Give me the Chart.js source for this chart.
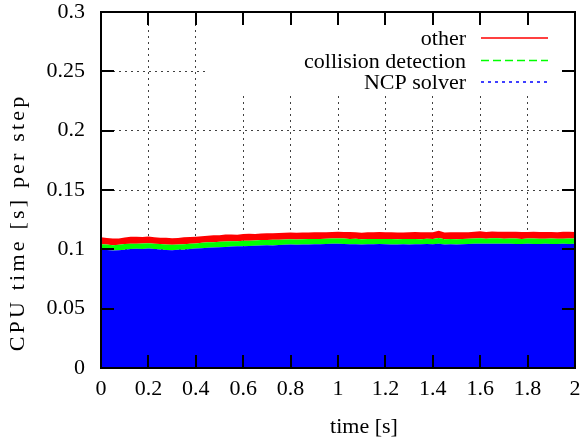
<!DOCTYPE html>
<html>
<head>
<meta charset="utf-8">
<script src="https://cdn.jsdelivr.net/npm/chart.js@4.4.1/dist/chart.umd.min.js"></script>
<style>
  html, body { margin: 0; padding: 0; background: #fff; }
  #wrap { width: 588px; height: 440px; }
</style>
</head>
<body>
<div id="wrap"><canvas id="cpuChart" width="588" height="440"></canvas></div>
<script>
// CPU time per step, stacked (bottom to top): NCP solver, collision detection, other

// 1. Data
const time = [
    0, 0.025, 0.05, 0.075, 0.1, 0.125, 0.15, 0.175, 0.2, 0.225,
    0.25, 0.275, 0.3, 0.325, 0.35, 0.375, 0.4, 0.425, 0.45, 0.475,
    0.5, 0.525, 0.55, 0.575, 0.6, 0.625, 0.65, 0.675, 0.7, 0.725,
    0.75, 0.775, 0.8, 0.825, 0.85, 0.875, 0.9, 0.925, 0.95, 0.975,
    1, 1.025, 1.05, 1.075, 1.1, 1.125, 1.15, 1.175, 1.2, 1.225,
    1.25, 1.275, 1.3, 1.325, 1.35, 1.375, 1.4, 1.425, 1.45, 1.475,
    1.5, 1.525, 1.55, 1.575, 1.6, 1.625, 1.65, 1.675, 1.7, 1.725,
    1.75, 1.775, 1.8, 1.825, 1.85, 1.875, 1.9, 1.925, 1.95, 1.975,
    2
];

const ncpSolver = [
    0.1000, 0.0995, 0.0990, 0.0993, 0.0997, 0.1002, 0.1005, 0.1003, 0.1006, 0.1002,
    0.0998, 0.0994, 0.0993, 0.0996, 0.0997, 0.1002, 0.1007, 0.1010, 0.1013, 0.1016,
    0.1018, 0.1020, 0.1023, 0.1025, 0.1027, 0.1028, 0.1030, 0.1032, 0.1034, 0.1033,
    0.1036, 0.1038, 0.1040, 0.1039, 0.1041, 0.1040, 0.1042, 0.1043, 0.1044, 0.1046,
    0.1047, 0.1045, 0.1043, 0.1042, 0.1041, 0.1043, 0.1042, 0.1044, 0.1043, 0.1041,
    0.1040, 0.1042, 0.1041, 0.1043, 0.1042, 0.1044, 0.1043, 0.1046, 0.1041, 0.1042,
    0.1041, 0.1043, 0.1044, 0.1046, 0.1047, 0.1046, 0.1048, 0.1047, 0.1046, 0.1047,
    0.1045, 0.1044, 0.1046, 0.1045, 0.1044, 0.1046, 0.1045, 0.1044, 0.1046, 0.1045,
    0.1046
];

const collisionDetection = [
    0.0043, 0.0046, 0.0044, 0.0045, 0.0047, 0.0044, 0.0043, 0.0046, 0.0045, 0.0044,
    0.0046, 0.0047, 0.0045, 0.0044, 0.0046, 0.0045, 0.0043, 0.0045, 0.0046, 0.0044,
    0.0045, 0.0047, 0.0045, 0.0044, 0.0046, 0.0045, 0.0044, 0.0046, 0.0045, 0.0047,
    0.0044, 0.0045, 0.0046, 0.0044, 0.0045, 0.0047, 0.0045, 0.0044, 0.0046, 0.0045,
    0.0044, 0.0046, 0.0045, 0.0047, 0.0044, 0.0045, 0.0046, 0.0044, 0.0045, 0.0046,
    0.0044, 0.0045, 0.0047, 0.0045, 0.0044, 0.0046, 0.0045, 0.0050, 0.0044, 0.0046,
    0.0045, 0.0044, 0.0046, 0.0045, 0.0047, 0.0044, 0.0045, 0.0046, 0.0044, 0.0045,
    0.0046, 0.0044, 0.0045, 0.0047, 0.0045, 0.0044, 0.0046, 0.0045, 0.0044, 0.0046,
    0.0045
];

const other = [
    0.0058, 0.0055, 0.0057, 0.0054, 0.0056, 0.0059, 0.0057, 0.0055, 0.0058, 0.0056,
    0.0054, 0.0057, 0.0056, 0.0055, 0.0058, 0.0056, 0.0057, 0.0055, 0.0056, 0.0058,
    0.0055, 0.0057, 0.0056, 0.0054, 0.0057, 0.0058, 0.0055, 0.0056, 0.0057, 0.0055,
    0.0058, 0.0056, 0.0055, 0.0057, 0.0056, 0.0054, 0.0057, 0.0058, 0.0055, 0.0056,
    0.0057, 0.0055, 0.0058, 0.0056, 0.0054, 0.0057, 0.0056, 0.0058, 0.0055, 0.0056,
    0.0057, 0.0055, 0.0056, 0.0058, 0.0057, 0.0054, 0.0056, 0.0060, 0.0057, 0.0055,
    0.0058, 0.0056, 0.0055, 0.0057, 0.0058, 0.0056, 0.0057, 0.0055, 0.0058, 0.0056,
    0.0057, 0.0058, 0.0055, 0.0056, 0.0058, 0.0057, 0.0055, 0.0056, 0.0058, 0.0057,
    0.0056
];

const xTickValues = [0, 0.2, 0.4, 0.6, 0.8, 1, 1.2, 1.4, 1.6, 1.8, 2];
const yTickValues = [0, 0.05, 0.1, 0.15, 0.2, 0.25, 0.3];

const seriesNames = ['NCP solver', 'collision detection', 'other'];
const seriesColors = ['#0000ff', '#00ff00', '#ff0000'];

// 2. Helpers
const FONT = '"Liberation Serif", "Times New Roman", serif';
const toPoints = (vals) => vals.map((v, i) => ({ x: time[i], y: v }));
const fmtTick = (v) => String(+Number(v).toFixed(3));

// key box (gnuplot style, opaque, top right)
const KEY_LEFT = 208;
const KEY_BOTTOM = 92;

// 3. Plugin: opaque key, frame with mirrored ticks, axis titles
const gnuplotFrame = {
    id: 'gnuplotFrame',
    beforeDatasetsDraw(chart) {
        const { ctx, chartArea: a } = chart;
        ctx.save();
        ctx.fillStyle = '#fff';
        ctx.fillRect(KEY_LEFT, a.top + 1, a.right - KEY_LEFT - 1, KEY_BOTTOM - a.top);
        ctx.restore();
    },
    afterDatasetsDraw(chart) {
        const { ctx, chartArea: a, scales } = chart;
        const x = scales.x, y = scales.y;
        const tickLen = 13;
        ctx.save();
        ctx.strokeStyle = '#000';
        ctx.lineWidth = 2;
        ctx.setLineDash([]);
        ctx.beginPath();
        xTickValues.forEach(v => {
            const px = Math.round(x.getPixelForValue(v));
            ctx.moveTo(px, a.bottom); ctx.lineTo(px, a.bottom - tickLen);
            ctx.moveTo(px, a.top); ctx.lineTo(px, a.top + tickLen);
        });
        yTickValues.forEach(v => {
            const py = Math.round(y.getPixelForValue(v));
            ctx.moveTo(a.left, py); ctx.lineTo(a.left + tickLen, py);
            ctx.moveTo(a.right, py); ctx.lineTo(a.right - tickLen, py);
        });
        ctx.stroke();
        ctx.strokeRect(a.left, a.top, a.right - a.left, a.bottom - a.top);

        // key: top entry is the last dataset
        ctx.font = '22px ' + FONT;
        ctx.fillStyle = '#000';
        ctx.textAlign = 'right';
        ctx.textBaseline = 'alphabetic';
        const keyRows = [
            { name: seriesNames[2], color: seriesColors[2], dash: [], y: 38 },
            { name: seriesNames[1], color: seriesColors[1], dash: [8, 4], y: 60.5 },
            { name: seriesNames[0], color: seriesColors[0], dash: [3, 4], y: 82 }
        ];
        keyRows.forEach(r => {
            ctx.fillText(r.name, 466, r.y + 7);
            ctx.strokeStyle = r.color;
            ctx.lineWidth = 1.5;
            ctx.setLineDash(r.dash);
            ctx.beginPath();
            ctx.moveTo(481, r.y);
            ctx.lineTo(548, r.y);
            ctx.stroke();
        });
        ctx.setLineDash([]);

        // axis titles
        ctx.textAlign = 'center';
        ctx.fillText('time [s]', 364, 433);
        ctx.translate(18, 224);
        ctx.rotate(-Math.PI / 2);
        ctx.textBaseline = 'middle';
        // rotated title in the original is set looser
        ctx.letterSpacing = '3.2px';
        ctx.fillText('CPU time [s] per step', 1.6, 0);
        ctx.restore();
    }
};

// 4. Chart
const chart = new Chart(document.getElementById('cpuChart').getContext('2d'), {
    type: 'line',
    data: {
        datasets: [
            { label: seriesNames[0], data: toPoints(ncpSolver), backgroundColor: seriesColors[0], borderColor: seriesColors[0], borderWidth: 0, fill: 'origin' },
            { label: seriesNames[1], data: toPoints(collisionDetection), backgroundColor: seriesColors[1], borderColor: seriesColors[1], borderWidth: 0, fill: '-1' },
            { label: seriesNames[2], data: toPoints(other), backgroundColor: seriesColors[2], borderColor: seriesColors[2], borderWidth: 0, fill: '-1' }
        ]
    },
    options: {
        responsive: false,
        animation: false,
        events: [],
        layout: { padding: { left: 0, right: 13, top: 12, bottom: 0 } },
        elements: { point: { radius: 0 }, line: { tension: 0 } },
        plugins: { legend: { display: false }, tooltip: { enabled: false } },
        scales: {
            x: {
                type: 'linear',
                min: 0,
                max: 2,
                afterBuildTicks: (s) => { s.ticks = xTickValues.map(v => ({ value: v })); },
                afterFit: (s) => { s.height = 72; s.paddingLeft = 0; s.paddingRight = 0; },
                grid: { color: 'rgba(0,0,0,0.75)', lineWidth: 1, drawTicks: false },
                border: { display: false, dash: [2, 4] },
                ticks: {
                    autoSkip: false,
                    maxRotation: 0,
                    padding: 8,
                    color: '#000',
                    font: { family: FONT, size: 22 },
                    callback: fmtTick
                }
            },
            y: {
                stacked: true,
                min: 0,
                max: 0.3,
                afterBuildTicks: (s) => { s.ticks = yTickValues.map(v => ({ value: v })); },
                afterFit: (s) => { s.width = 101; s.paddingTop = 0; s.paddingBottom = 0; },
                grid: { color: 'rgba(0,0,0,0.75)', lineWidth: 1, drawTicks: false },
                border: { display: false, dash: [2, 4] },
                ticks: {
                    padding: 16,
                    color: '#000',
                    font: { family: FONT, size: 22 },
                    callback: fmtTick
                }
            }
        }
    },
    plugins: [gnuplotFrame]
});
</script>
</body>
</html>
